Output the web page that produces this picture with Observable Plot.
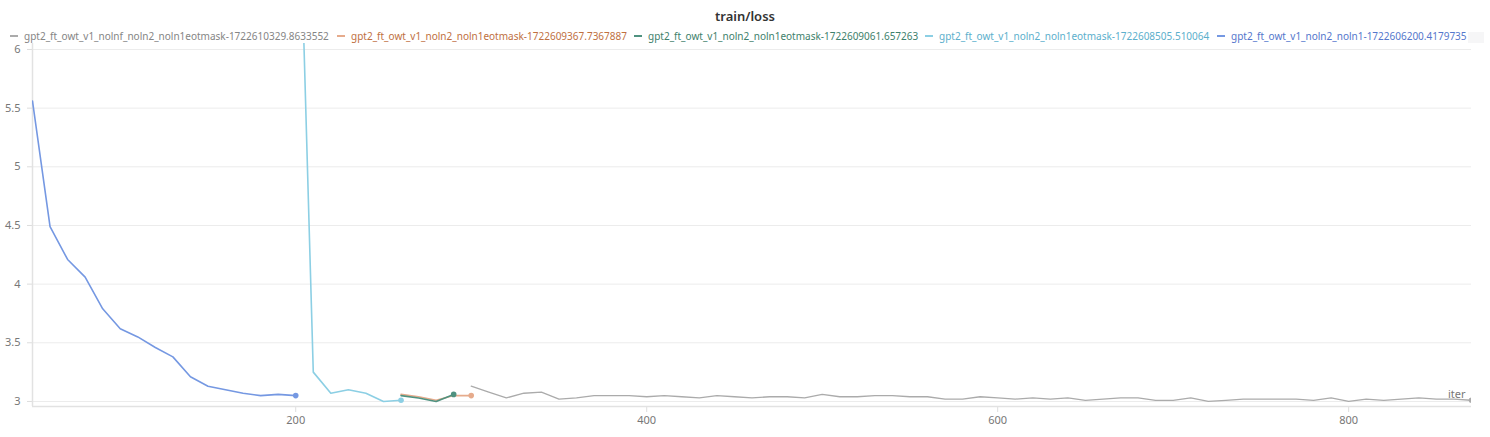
<!DOCTYPE html>
<html>
<head>
<meta charset="utf-8">
<script src="https://cdn.jsdelivr.net/npm/d3@7"></script>
<script src="https://cdn.jsdelivr.net/npm/@observablehq/plot@0.6"></script>
<style>
  html, body { margin: 0; padding: 0; background: #fff; }
  body { width: 1490px; height: 437px; overflow: hidden; font-family: "Noto Sans", "Open Sans", sans-serif; }
  #header { position: relative; height: 40px; }
  #title { position: absolute; top: 7px; left: 0; width: 1490px; text-align: center; font-size: 13px; line-height: 18px; font-weight: 600; color: #333; }
  .leg { position: absolute; top: 30px; line-height: 12px; font-size: 10px; white-space: nowrap; }
  .sw { display: inline-block; width: 8px; height: 2px; vertical-align: middle; margin-right: 6px; position: relative; top: -1px; }
  #more { position: absolute; top: 32px; left: 1468px; width: 16px; height: 11px; background: #f6f6f7; }
</style>
</head>
<body>
<div id="header"><div id="title">train/loss</div><div id="legend"></div><div id="more"></div></div>
<div id="chart"></div>
<script>
// ---- data ----
const seriesNames = [
  "gpt2_ft_owt_v1_nolnf_noln2_noln1eotmask-1722610329.8633552",
  "gpt2_ft_owt_v1_noln2_noln1eotmask-1722609367.7367887",
  "gpt2_ft_owt_v1_noln2_noln1eotmask-1722609061.657263",
  "gpt2_ft_owt_v1_noln2_noln1eotmask-1722608505.510064",
  "gpt2_ft_owt_v1_noln2_noln1-1722606200.4179735"
];
const lineColors = ["#ababab", "#e6ab8c", "#4f9280", "#8ccfe4", "#7598e2"];
const textColors = ["#858585", "#c0703f", "#3e7f6c", "#5cafcc", "#5577cc"];

const blueIter = [50, 60, 70, 80, 90, 100, 110, 120, 130, 140, 150, 160, 170, 180, 190, 200];
const blueLoss = [5.56, 4.49, 4.21, 4.06, 3.79, 3.62, 3.55, 3.46, 3.38, 3.21, 3.13, 3.10, 3.07, 3.05, 3.06, 3.05];

const cyanIter = [200, 210, 220, 230, 240, 250, 260];
const cyanLoss = [8.5, 3.25, 3.07, 3.10, 3.07, 3.00, 3.01];

const greenIter = [260, 270, 280, 290];
const greenLoss = [3.05, 3.03, 3.00, 3.06];

const orangeIter = [260, 270, 280, 290, 300];
const orangeLoss = [3.06, 3.04, 3.01, 3.05, 3.05];

const grayIter = [300, 310, 320, 330, 340, 350, 360, 370, 380, 390,
                  400, 410, 420, 430, 440, 450, 460, 470, 480, 490,
                  500, 510, 520, 530, 540, 550, 560, 570, 580, 590,
                  600, 610, 620, 630, 640, 650, 660, 670, 680, 690,
                  700, 710, 720, 730, 740, 750, 760, 770, 780, 790,
                  800, 810, 820, 830, 840, 850, 860, 870];
const grayLoss = [3.13, 3.08, 3.03, 3.07, 3.08, 3.02, 3.03, 3.05, 3.05, 3.05,
                  3.04, 3.05, 3.04, 3.03, 3.05, 3.04, 3.03, 3.04, 3.04, 3.03,
                  3.06, 3.04, 3.04, 3.05, 3.05, 3.04, 3.04, 3.02, 3.02, 3.04,
                  3.03, 3.02, 3.03, 3.02, 3.03, 3.01, 3.02, 3.03, 3.03, 3.01,
                  3.01, 3.03, 3.00, 3.01, 3.02, 3.02, 3.02, 3.02, 3.01, 3.03,
                  3.00, 3.02, 3.01, 3.02, 3.03, 3.02, 3.02, 3.01];

const xTicks = [200, 400, 600, 800];
const yTicks = [3, 3.5, 4, 4.5, 5, 5.5, 6];
const xDomain = [50, 870];
const yDomain = [2.957, 6.051];

// ---- build rows ----
const groups = [
  [grayIter, grayLoss],
  [orangeIter, orangeLoss],
  [greenIter, greenLoss],
  [cyanIter, cyanLoss],
  [blueIter, blueLoss]
];
const rows = [];
groups.forEach(([xs, ys], i) => xs.forEach((x, j) => rows.push({run: seriesNames[i], iter: x, loss: ys[j]})));
const lastPoints = groups.map(([xs, ys], i) => ({run: seriesNames[i], iter: xs[xs.length - 1], loss: ys[ys.length - 1]}));
const drawOrder = [4, 3, 0, 1, 2];

// ---- legend ----
const legendLeft = [10, 337, 634, 925, 1217];
const legend = document.getElementById("legend");
seriesNames.forEach((name, i) => {
  const el = document.createElement("div");
  el.className = "leg";
  el.style.left = legendLeft[i] + "px";
  el.style.color = textColors[i];
  el.innerHTML = `<span class="sw" style="background:${lineColors[i]}"></span>${name}`;
  legend.appendChild(el);
});

// ---- chart ----
const color = {domain: seriesNames, range: lineColors};
const chart = Plot.plot({
  width: 1490,
  height: 397,
  marginLeft: 32,
  marginRight: 19,
  marginTop: 3,
  marginBottom: 31,
  style: {fontFamily: "Noto Sans, Open Sans, sans-serif", fontSize: "11px", color: "#777", background: "#fff"},
  x: {domain: xDomain, ticks: xTicks},
  y: {domain: yDomain, ticks: yTicks},
  color,
  marks: [
    Plot.gridY(yTicks, {stroke: "#ececec", strokeOpacity: 1, strokeWidth: 1}),
    Plot.axisY(yTicks, {tickSize: 5, tickPadding: 7, stroke: "#ddd", fill: "#777", label: null, tickFormat: d => String(d)}),
    Plot.axisX(xTicks, {tickSize: 6, tickPadding: 4, stroke: "#ddd", fill: "#777", label: null}),
    Plot.ruleX([xDomain[0]], {stroke: "#e2e2e2", strokeWidth: 1.5}),
    Plot.ruleY([yDomain[0]], {stroke: "#e2e2e2", strokeWidth: 1.5}),
    ...drawOrder.map(i => Plot.line(rows.filter(r => r.run === seriesNames[i]), {
      x: "iter", y: "loss", stroke: "run", strokeWidth: i === 0 ? 1.3 : 1.6, clip: true
    })),
    Plot.dot(lastPoints, {x: "iter", y: "loss", fill: "run", r: 2.8, clip: true}),
    Plot.text(["iter"], {frameAnchor: "bottom-right", dx: -6, dy: -9, fill: "#777", fontSize: 11, textAnchor: "end"})
  ]
});
document.getElementById("chart").appendChild(chart);
</script>
</body>
</html>
